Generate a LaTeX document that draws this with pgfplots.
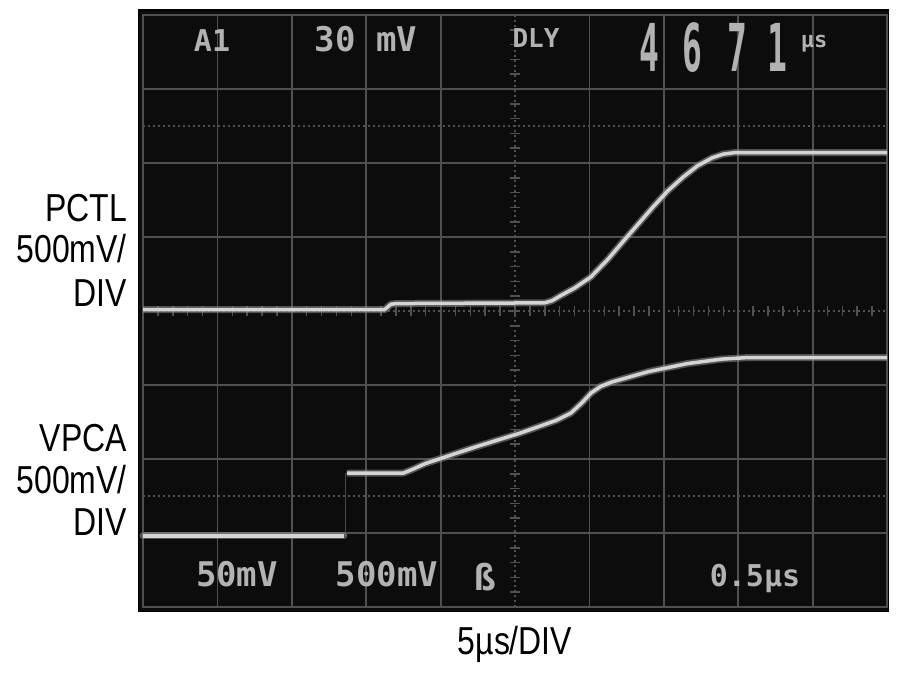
\documentclass[border=0pt]{standalone}
\usepackage{pgfplots}
\pgfplotsset{compat=1.18}
\usepackage{fontspec}
\setmainfont{Liberation Sans}
\newfontfamily\narrow[FakeStretch=0.82]{Liberation Sans}
\newfontfamily\scopefont{DejaVu Sans Mono Bold}
\newfontfamily\bigdig[FakeStretch=0.5]{DejaVu Sans Mono Bold}
\definecolor{screen}{RGB}{12,12,12}
\definecolor{gridc}{RGB}{80,80,80}
\definecolor{txtc}{RGB}{178,178,178}
\definecolor{glow}{RGB}{140,140,140}
\definecolor{core}{RGB}{212,212,212}
\definecolor{edge}{RGB}{70,70,70}
\begin{document}
\begin{tikzpicture}[x=1bp,y=1bp]
\useasboundingbox (0,0) rectangle (900,681);
\fill[screen,draw={RGB:red,100;green,100;blue,100},line width=1.5bp] (138.5,69.5) rectangle (888.5,671);
\begin{axis}[
  at={(143bp,74bp)}, anchor=south west,
  scale only axis, width=744bp, height=592bp,
  xmin=0, xmax=10, ymin=-4, ymax=4,
  xtick={1,2,3,4,6,7,8,9}, ytick={-3,-2,-1,1,2,3},
  xticklabels={}, yticklabels={},
  major tick length=0pt,
  grid=major,
  major grid style={draw=gridc, line width=1.8bp},
  axis line style={draw=gridc, line width=1.5bp},
  extra x ticks={5}, extra y ticks={-2.5,0,2.5},
  extra x tick labels={}, extra y tick labels={},
  extra tick style={grid=major, major tick length=0pt,
    major grid style={draw=gridc, line width=1.8bp, dash pattern=on 2bp off 3bp}},
  clip=false,
]
\pgfplotsinvokeforeach{0.2,0.4,...,9.9}{
  \draw[gridc, line width=1.5bp] (axis cs:#1,-0.07) -- (axis cs:#1,0.07);
}
\pgfplotsinvokeforeach{-3.8,-3.6,...,3.9}{
  \draw[gridc, line width=1.5bp] (axis cs:4.93,#1) -- (axis cs:5.07,#1);
}
% PCTL trace
\addplot[glow, opacity=0.55, line width=7bp, line join=round] coordinates {
(0,0.02) (3.25,0.02) (3.33,0.09) (3.4,0.1) (5.4,0.11) (5.5,0.14) (5.6,0.2) (5.8,0.31) (6.02,0.46) (6.25,0.70) (6.47,0.96) (6.66,1.18) (6.85,1.40) (7.05,1.62) (7.26,1.81) (7.45,1.96) (7.65,2.07) (7.8,2.12) (7.95,2.14) (10,2.14)};
\addplot[core, line width=3.5bp, line join=round] coordinates {
(0,0.02) (3.25,0.02) (3.33,0.09) (3.4,0.1) (5.4,0.11) (5.5,0.14) (5.6,0.2) (5.8,0.31) (6.02,0.46) (6.25,0.70) (6.47,0.96) (6.66,1.18) (6.85,1.40) (7.05,1.62) (7.26,1.81) (7.45,1.96) (7.65,2.07) (7.8,2.12) (7.95,2.14) (10,2.14)};
% VPCA trace: fast edge (faint)
\addplot[edge, line width=1.5bp] coordinates {(2.72,-3.04) (2.72,-2.19)};
% VPCA low part
\addplot[glow, opacity=0.55, line width=7bp, line cap=round] coordinates {(0,-3.04) (2.70,-3.04)};
\addplot[core, line width=3.5bp] coordinates {(0,-3.04) (2.70,-3.04)};
% VPCA high part
\addplot[glow, opacity=0.55, line width=7bp, line join=round] coordinates {
(2.74,-2.19) (3.5,-2.19) (3.6,-2.15) (3.8,-2.06) (4.46,-1.84) (5.07,-1.65) (5.55,-1.48) (5.75,-1.38) (5.9,-1.24) (6.02,-1.11) (6.15,-1.02) (6.3,-0.96) (6.79,-0.82) (7.32,-0.71) (7.78,-0.65) (8.12,-0.63) (10,-0.63)};
\addplot[core, line width=3.5bp, line join=round] coordinates {
(2.74,-2.19) (3.5,-2.19) (3.6,-2.15) (3.8,-2.06) (4.46,-1.84) (5.07,-1.65) (5.55,-1.48) (5.75,-1.38) (5.9,-1.24) (6.02,-1.11) (6.15,-1.02) (6.3,-0.96) (6.79,-0.82) (7.32,-0.71) (7.78,-0.65) (8.12,-0.63) (10,-0.63)};
\end{axis}
% scope readouts
\begin{scope}[every node/.style={text=txtc, inner sep=0pt, anchor=base}]
\node at (212,629) {\scopefont\fontsize{30bp}{30bp}\selectfont A1};
\node at (366,629) {\scopefont\fontsize{34bp}{34bp}\selectfont 30 mV};
\node at (536,633) {\scopefont\fontsize{26bp}{26bp}\selectfont DLY};
\node at (649,609) {\bigdig\fontsize{66bp}{66bp}\selectfont 4};
\node at (692,609) {\bigdig\fontsize{66bp}{66bp}\selectfont 6};
\node at (737,609) {\bigdig\fontsize{66bp}{66bp}\selectfont 7};
\node at (777,609) {\bigdig\fontsize{66bp}{66bp}\selectfont 1};
\node at (814,633) {\scopefont\fontsize{22bp}{22bp}\selectfont µs};
\node at (237,94) {\scopefont\fontsize{34bp}{34bp}\selectfont 50mV};
\node at (387,94) {\scopefont\fontsize{34bp}{34bp}\selectfont 500mV};
\node at (485,90) {\scopefont\fontsize{36bp}{36bp}\selectfont ß};
\node at (755,94) {\scopefont\fontsize{30bp}{30bp}\selectfont 0.5µs};
\end{scope}
% outside labels
\begin{scope}[every node/.style={inner sep=0pt, anchor=base east}]
\node at (127,459) {\narrow\fontsize{39bp}{42bp}\selectfont PCTL};
\node at (127,418) {\narrow\fontsize{39bp}{42bp}\selectfont 500mV/};
\node at (127,374) {\narrow\fontsize{39bp}{42bp}\selectfont DIV};
\node at (127,229) {\narrow\fontsize{39bp}{42bp}\selectfont VPCA};
\node at (127,187) {\narrow\fontsize{39bp}{42bp}\selectfont 500mV/};
\node at (127,145) {\narrow\fontsize{39bp}{42bp}\selectfont DIV};
\end{scope}
\node[inner sep=0pt, anchor=base] at (515,26) {\narrow\fontsize{39bp}{42bp}\selectfont 5µs/DIV};
\end{tikzpicture}
\end{document}
